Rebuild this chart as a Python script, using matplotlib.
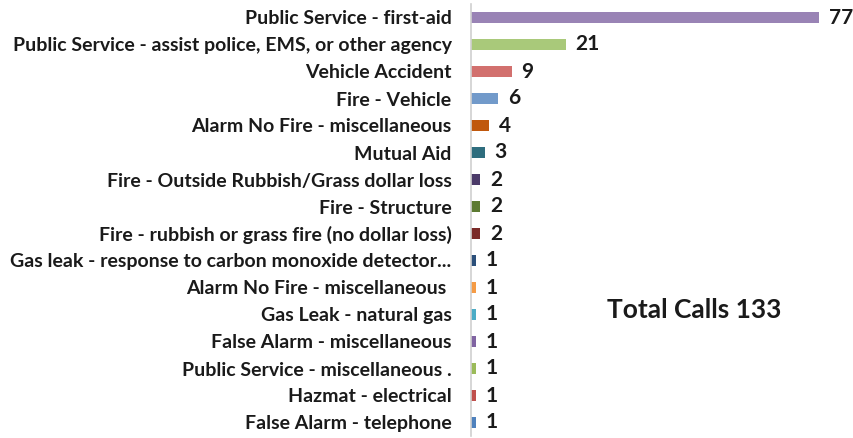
import matplotlib
matplotlib.use("Agg")
import matplotlib.pyplot as plt

categories = [
    "Public Service - first-aid",
    "Public Service - assist police, EMS, or other agency",
    "Vehicle Accident",
    "Fire - Vehicle",
    "Alarm No Fire - miscellaneous",
    "Mutual Aid",
    "Fire - Outside Rubbish/Grass dollar loss",
    "Fire - Structure",
    "Fire - rubbish or grass fire (no dollar loss)",
    "Gas leak - response to carbon monoxide detector...",
    "Alarm No Fire - miscellaneous ",
    "Gas Leak - natural gas",
    "False Alarm - miscellaneous",
    "Public Service - miscellaneous .",
    "Hazmat - electrical",
    "False Alarm - telephone",
]
values = [77, 21, 9, 6, 4, 3, 2, 2, 2, 1, 1, 1, 1, 1, 1, 1]
colors = ["#9983B5", "#A9C97A", "#D2706E", "#729ACA", "#C0580D", "#2E6D7E",
          "#4B3A69", "#5C7A32", "#7A2A28", "#2B4F7A", "#F59B45", "#4BACC6",
          "#8064A2", "#9BBB59", "#C0504D", "#4F81BD"]
total_text = "Total Calls 133"

plt.rcParams['font.family'] = ['Lato', 'DejaVu Sans']

fig = plt.figure(figsize=(8.54, 4.38), dpi=100)
ax = fig.add_axes([471/854, 1 - 436/438, (855 - 471)/854, (436 - 4)/438])

y = list(range(len(categories)))
ax.barh(y, values, height=0.38, color=colors)
ax.set_ylim(len(categories) - 0.5, -0.5)
ax.set_xlim(0, 85)
ax.set_yticks(y)
ax.set_yticklabels(categories, fontsize=14, fontweight='bold', color='#1a1a1a')
ax.tick_params(axis='y', length=0, pad=14)
ax.set_xticks([])
for s in ['top', 'right', 'bottom']:
    ax.spines[s].set_visible(False)
ax.spines['left'].set_color('#D0D0D0')
ax.spines['left'].set_linewidth(1.2)

for yi, v in zip(y, values):
    ax.annotate(str(v), (v, yi), xytext=(7, 0), textcoords='offset points',
                va='center', ha='left', fontsize=15, fontweight='bold', color='#1a1a1a')

fig.text(607/854, 1 - 310/438, total_text, fontsize=19, fontweight='bold',
         color='#1a1a1a', va='center', ha='left')

fig.savefig("out.png", dpi=100)
